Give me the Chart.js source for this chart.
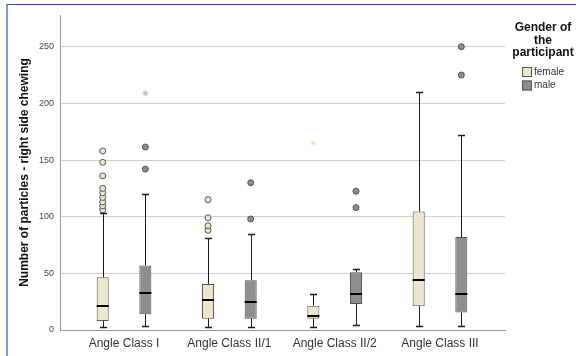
<!DOCTYPE html>
<html>
<head>
<meta charset="utf-8">
<script src="https://cdn.jsdelivr.net/npm/chart.js@4/dist/chart.umd.min.js"></script>
<style>
  body { margin: 0; background: #fff; }
  #wrap { position: relative; width: 576px; height: 356px; }
  #frame { position: absolute; left: 6px; top: 4px; right: 0; bottom: 0;
           border-top: 1px solid #3150b5; border-left: 2px solid #8595d8; }
  #grafica { position: absolute; left: 0; top: 0; }
</style>
</head>
<body>
<div id="wrap">
  <div id="frame"></div>
  <canvas id="grafica" width="576" height="356"></canvas>
</div>
<script>
const clases = ["Angle Class I", "Angle Class II/1", "Angle Class II/2", "Angle Class III"];
const yTicks = [0, 50, 100, 150, 200, 250];

// female
const femMin = [2.5, 3, 3, 3.5];
const femQ1 = [8, 10, 10, 21];
const femMed = [21, 26.5, 12.5, 44];
const femQ3 = [46.5, 40.5, 21.5, 104.5];
const femMax = [103, 81.5, 31.5, 210];
const femOut = [[106, 109.5, 113, 117, 121, 125, 136, 148, 158], [88, 92, 99, 115], [], []];
const femExt = [[], [], [165], []];

// male
const masMin = [3.5, 3, 4, 3.5];
const masQ1 = [14, 10, 23, 15.5];
const masMed = [33, 25, 31.5, 32];
const masQ3 = [57, 44, 51, 82];
const masMax = [120, 84.5, 54, 172];
const masOut = [[142, 161.5], [98, 130], [108, 122.5], [225, 250]];
const masExt = [[209], [], [], []];

const catPct = 0.81;
const desplaza = catPct / 4;

const cajas = [
  { min: femMin, med: femMed, max: femMax },
  { min: masMin, med: masMed, max: masMax }
];

const puntos = (listas, dx) => listas.flatMap((vals, i) => vals.map(v => ({ x: i + dx, y: v })));

const fuente = '"Liberation Sans", Arial, sans-serif';

const bigotes = {
  id: "bigotes",
  afterDatasetsDraw(chart) {
    const ctx = chart.ctx;
    const y = chart.scales.y;
    cajas.forEach((c, d) => {
      chart.getDatasetMeta(d).data.forEach((bar, i) => {
        const x = Math.round(bar.x) + 0.5;
        const yq1 = y.getPixelForValue(d === 0 ? femQ1[i] : masQ1[i]);
        const yq3 = y.getPixelForValue(d === 0 ? femQ3[i] : masQ3[i]);
        const ymin = Math.round(y.getPixelForValue(c.min[i])) + 0.5;
        const ymax = Math.round(y.getPixelForValue(c.max[i])) + 0.5;
        ctx.save();
        ctx.strokeStyle = "#1c1c1c";
        ctx.lineWidth = 1;
        ctx.beginPath();
        ctx.moveTo(x, yq3); ctx.lineTo(x, ymax);
        ctx.moveTo(x, yq1); ctx.lineTo(x, ymin);
        ctx.stroke();
        ctx.lineWidth = 1.6;
        ctx.beginPath();
        ctx.moveTo(x - 3.5, ymax); ctx.lineTo(x + 3.5, ymax);
        ctx.moveTo(x - 3.5, ymin); ctx.lineTo(x + 3.5, ymin);
        ctx.stroke();
        ctx.lineWidth = 2;
        ctx.beginPath();
        const ym = Math.round(y.getPixelForValue(c.med[i]));
        ctx.moveTo(bar.x - bar.width / 2, ym); ctx.lineTo(bar.x + bar.width / 2, ym);
        ctx.strokeStyle = "#000";
        ctx.stroke();
        ctx.restore();
      });
    });
  }
};

const leyenda = {
  id: "leyenda",
  afterDraw(chart) {
    const ctx = chart.ctx;
    ctx.save();
    ctx.fillStyle = "#111";
    ctx.font = "bold 12px " + fuente;
    ctx.textAlign = "center";
    ctx.textBaseline = "middle";
    ["Gender of", "the", "participant"].forEach((t, k) => ctx.fillText(t, 543, 28 + k * 12.5));
    ctx.font = "10px " + fuente;
    ctx.textAlign = "left";
    [["female", "#ebe6cc"], ["male", "#8e8e8e"]].forEach(([t, col], k) => {
      const yy = 72 + k * 13.5;
      ctx.fillStyle = col;
      ctx.fillRect(522, yy - 5, 10, 10);
      ctx.strokeStyle = "#555";
      ctx.lineWidth = 1;
      ctx.strokeRect(522.5, yy - 4.5, 9, 9);
      ctx.fillStyle = "#333";
      ctx.fillText(t, 534, yy);
    });
    ctx.restore();
  }
};

new Chart(document.getElementById("grafica"), {
  type: "bar",
  data: {
    datasets: [
      {
        label: "female",
        data: clases.map((c, i) => ({ x: i, y: [femQ1[i], femQ3[i]] })),
        backgroundColor: "#ebe6cc",
        borderColor: "#555",
        borderWidth: 1,
        borderSkipped: false,
        categoryPercentage: catPct,
        barPercentage: 0.282
      },
      {
        label: "male",
        data: clases.map((c, i) => ({ x: i, y: [masQ1[i], masQ3[i]] })),
        backgroundColor: "#8e8e8e",
        borderColor: "#555",
        borderWidth: 1,
        borderSkipped: false,
        categoryPercentage: catPct,
        barPercentage: 0.282
      },
      {
        type: "scatter",
        data: puntos(femOut, -desplaza),
        pointRadius: 3,
        pointBackgroundColor: "#ebe6cc",
        pointBorderColor: "#555",
        pointBorderWidth: 1
      },
      {
        type: "scatter",
        data: puntos(masOut, desplaza),
        pointRadius: 3,
        pointBackgroundColor: "#8e8e8e",
        pointBorderColor: "#555",
        pointBorderWidth: 1
      },
      {
        type: "scatter",
        data: puntos(femExt, -desplaza),
        pointStyle: "star",
        pointRadius: 3,
        pointBorderColor: "#e6e0c2",
        pointBorderWidth: 1
      },
      {
        type: "scatter",
        data: puntos(masExt, desplaza),
        pointStyle: "star",
        pointRadius: 3,
        pointBorderColor: "#b5b5b5",
        pointBorderWidth: 1
      }
    ]
  },
  options: {
    responsive: false,
    animation: false,
    layout: { padding: { top: 15, right: 71, left: 0, bottom: 0 } },
    plugins: { legend: { display: false }, tooltip: { enabled: false } },
    scales: {
      x: {
        type: "linear",
        min: -0.608,
        max: 3.617,
        offset: false,
        grid: { display: false, drawTicks: false },
        border: { color: "#999", width: 1 },
        afterBuildTicks: s => { s.ticks = clases.map((c, i) => ({ value: i })); },
        afterFit: s => { s.height = 26; },
        ticks: {
          autoSkip: false,
          maxRotation: 0,
          padding: 6,
          color: "#333",
          font: { family: fuente, size: 12 },
          callback: v => clases[v] ?? ""
        }
      },
      y: {
        min: 0,
        max: 278,
        afterBuildTicks: s => { s.ticks = yTicks.map(v => ({ value: v })); },
        afterFit: s => { s.width = 60; },
        grid: { color: "#cfcfcf", drawTicks: false },
        border: { color: "#999", width: 1 },
        ticks: {
          padding: 6,
          color: "#444",
          font: { family: fuente, size: 9 }
        },
        title: {
          display: true,
          text: "Number of particles - right side chewing",
          color: "#111",
          font: { family: fuente, size: 12, weight: "bold" },
          padding: { top: 17, bottom: 0 }
        }
      }
    }
  },
  plugins: [bigotes, leyenda]
});
</script>
</body>
</html>
